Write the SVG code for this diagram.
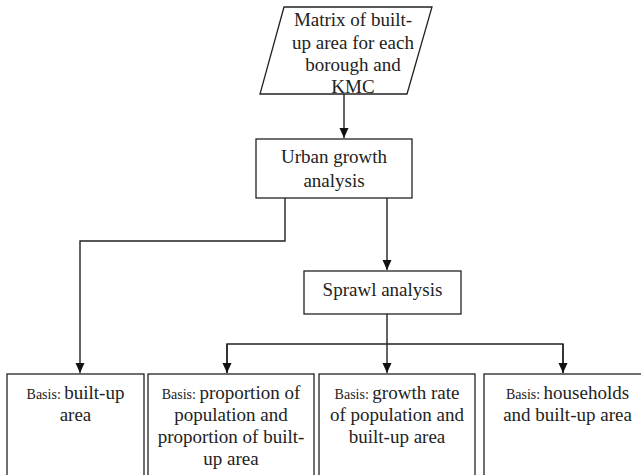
<svg xmlns="http://www.w3.org/2000/svg" width="641" height="475" viewBox="0 0 641 475" font-family="Liberation Serif, DejaVu Serif, serif">
<style>
.s{fill:#fff;stroke:#222;stroke-width:1.3}
.c{fill:none;stroke:#222;stroke-width:1.4}
text{font-size:19px;fill:#222;text-anchor:middle}
.b{font-size:14px}
</style>
<defs>
<marker id="ah" viewBox="0 0 10 10" refX="10" refY="5" markerWidth="10" markerHeight="10" markerUnits="userSpaceOnUse" orient="auto">
<path d="M0,0.5 L10,5 L0,9.5 Z" fill="#111"/>
</marker>
</defs>
<g id="connectors">
<path class="c" d="M344,94 V138" marker-end="url(#ah)"/>
<path class="c" d="M285,198 V241 H80 V373" marker-end="url(#ah)"/>
<path class="c" d="M387,198 V270" marker-end="url(#ah)"/>
<path class="c" d="M387,314 V373" marker-end="url(#ah)"/>
<path class="c" d="M227,373 V344 H563 V373"/>
<path class="c" d="M227,344 V373" marker-end="url(#ah)"/>
<path class="c" d="M563,344 V373" marker-end="url(#ah)"/>
</g>
<g id="matrix">
<polygon class="s" points="284,7 432,7 407,94 260,94"/>
<text x="353" y="26">Matrix of built-</text>
<text x="353" y="49">up area for each</text>
<text x="353" y="71">borough and</text>
<text x="353" y="93">KMC</text>
</g>
<g id="urban">
<rect class="s" x="256" y="139" width="156" height="59"/>
<text x="334" y="163">Urban growth</text>
<text x="334" y="187">analysis</text>
</g>
<g id="sprawl">
<rect class="s" x="304" y="271" width="157" height="43"/>
<text x="382.5" y="296">Sprawl analysis</text>
</g>
<g id="basis1">
<rect class="s" x="7" y="374" width="137" height="110"/>
<text x="75.5" y="399"><tspan class="b">Basis: </tspan>built-up</text>
<text x="75.5" y="421">area</text>
</g>
<g id="basis2">
<rect class="s" x="148" y="374" width="166" height="110"/>
<text x="231" y="399"><tspan class="b">Basis: </tspan>proportion of</text>
<text x="231" y="421">population and</text>
<text x="231" y="443">proportion of built-</text>
<text x="231" y="465">up area</text>
</g>
<g id="basis3">
<rect class="s" x="319" y="374" width="156" height="110"/>
<text x="397" y="399"><tspan class="b">Basis: </tspan>growth rate</text>
<text x="397" y="421">of population and</text>
<text x="397" y="443">built-up area</text>
</g>
<g id="basis4">
<rect class="s" x="484" y="374" width="170" height="110"/>
<text x="567.5" y="399"><tspan class="b">Basis: </tspan>households</text>
<text x="567.5" y="421">and built-up area</text>
</g>
</svg>
